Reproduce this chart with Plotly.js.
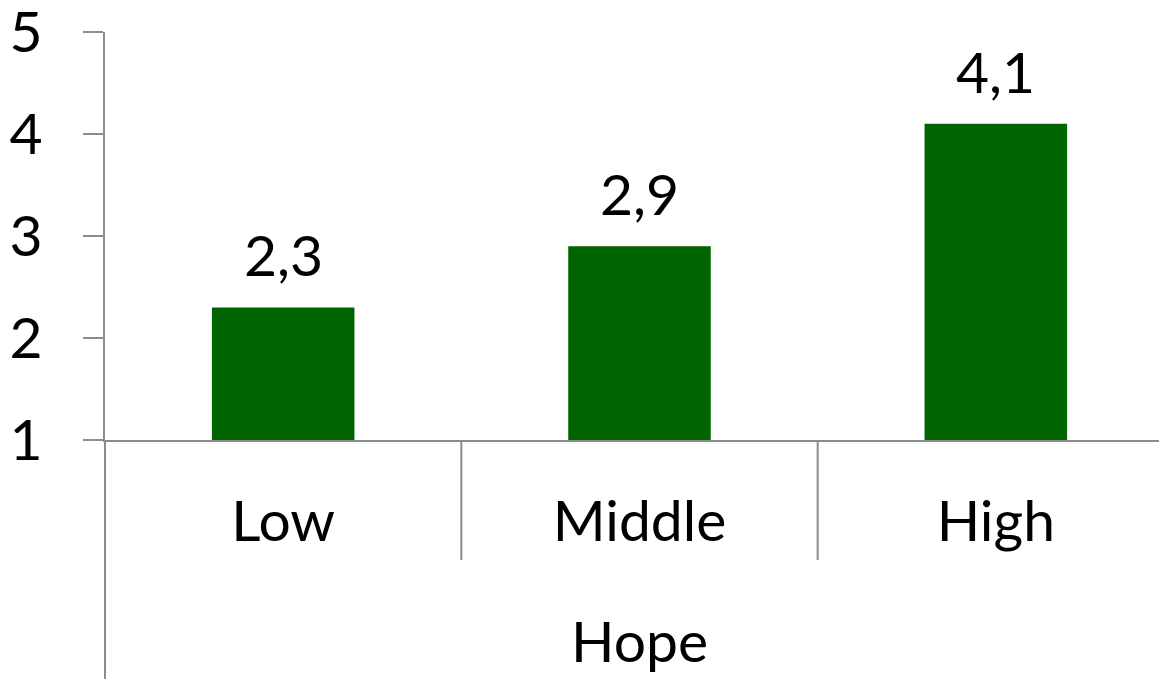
<!DOCTYPE html>
<html>
<head>
<meta charset="utf-8">
<script src="https://cdn.plot.ly/plotly-3.0.1.min.js"></script>
<style>
  html, body { margin: 0; padding: 0; overflow: hidden; background: #fff; }
  #chart { width: 1174px; height: 679px; }
</style>
</head>
<body>
<div id="chart"></div>
<script>
// Mean score per hope level
const categories = ['Low', 'Middle', 'High'];
const values = [2.3, 2.9, 4.1];
const groupLabel = 'Hope';
const yTicks = [1, 2, 3, 4, 5];

const FONT = 'Lato, "Noto Sans", sans-serif';
const AXIS_GREY = '#8c8c8c';
const BAR_GREEN = '#006400';

const bars = {
  type: 'bar',
  x: categories,
  y: values,
  marker: { color: BAR_GREEN, line: { width: 0 } },
  hoverinfo: 'x+y'
};

// value labels above each bar, comma as decimal mark
const valueLabels = categories.map((c, i) => ({
  x: c,
  y: values[i],
  xref: 'x',
  yref: 'y',
  text: values[i].toFixed(1).replace('.', ','),
  showarrow: false,
  yanchor: 'bottom',
  yshift: 17,
  font: { family: FONT, size: 57, color: '#000' }
}));

// category dividers hanging below the axis, and the long left border
const plotH = 408;
const divBottom = -(560 - 440) / plotH;
const leftBottom = -(679 - 440) / plotH;
const shapes = [
  { type: 'line', xref: 'paper', yref: 'paper', x0: 0, x1: 0, y0: 0, y1: leftBottom,
    line: { color: AXIS_GREY, width: 2 } }
];
for (let i = 0; i < categories.length - 1; i++) {
  shapes.push({ type: 'line', xref: 'x', yref: 'paper', x0: i + 0.5, x1: i + 0.5,
    y0: 0, y1: divBottom, line: { color: AXIS_GREY, width: 2 } });
}

const layout = {
  width: 1174,
  height: 679,
  margin: { l: 105, r: 0, t: 32, b: 239, pad: 0 },
  paper_bgcolor: '#fff',
  plot_bgcolor: '#fff',
  showlegend: false,
  bargap: 0.6,
  font: { family: FONT, color: '#000' },
  xaxis: {
    type: 'category',
    range: [-0.5, categories.length - 0.5],
    showline: true,
    linecolor: AXIS_GREY,
    linewidth: 2,
    ticks: '',
    showgrid: false,
    zeroline: false,
    tickfont: { family: FONT, size: 57, color: '#000' },
    ticklabelstandoff: 31,
    automargin: false,
    title: { text: groupLabel, font: { family: FONT, size: 57, color: '#000' }, standoff: 70 }
  },
  yaxis: {
    range: [1, 5],
    tickvals: yTicks,
    ticktext: yTicks.map(String),
    ticks: 'outside',
    ticklen: 20,
    tickwidth: 2,
    tickcolor: AXIS_GREY,
    showline: true,
    linecolor: AXIS_GREY,
    linewidth: 2,
    showgrid: false,
    zeroline: false,
    tickfont: { family: FONT, size: 57, color: '#000' },
    ticklabelstandoff: 29,
    ticklabeloverflow: 'allow',
    automargin: false
  },
  annotations: valueLabels,
  shapes: shapes
};

Plotly.newPlot('chart', [bars], layout, { displayModeBar: false, staticPlot: true });
</script>
</body>
</html>
